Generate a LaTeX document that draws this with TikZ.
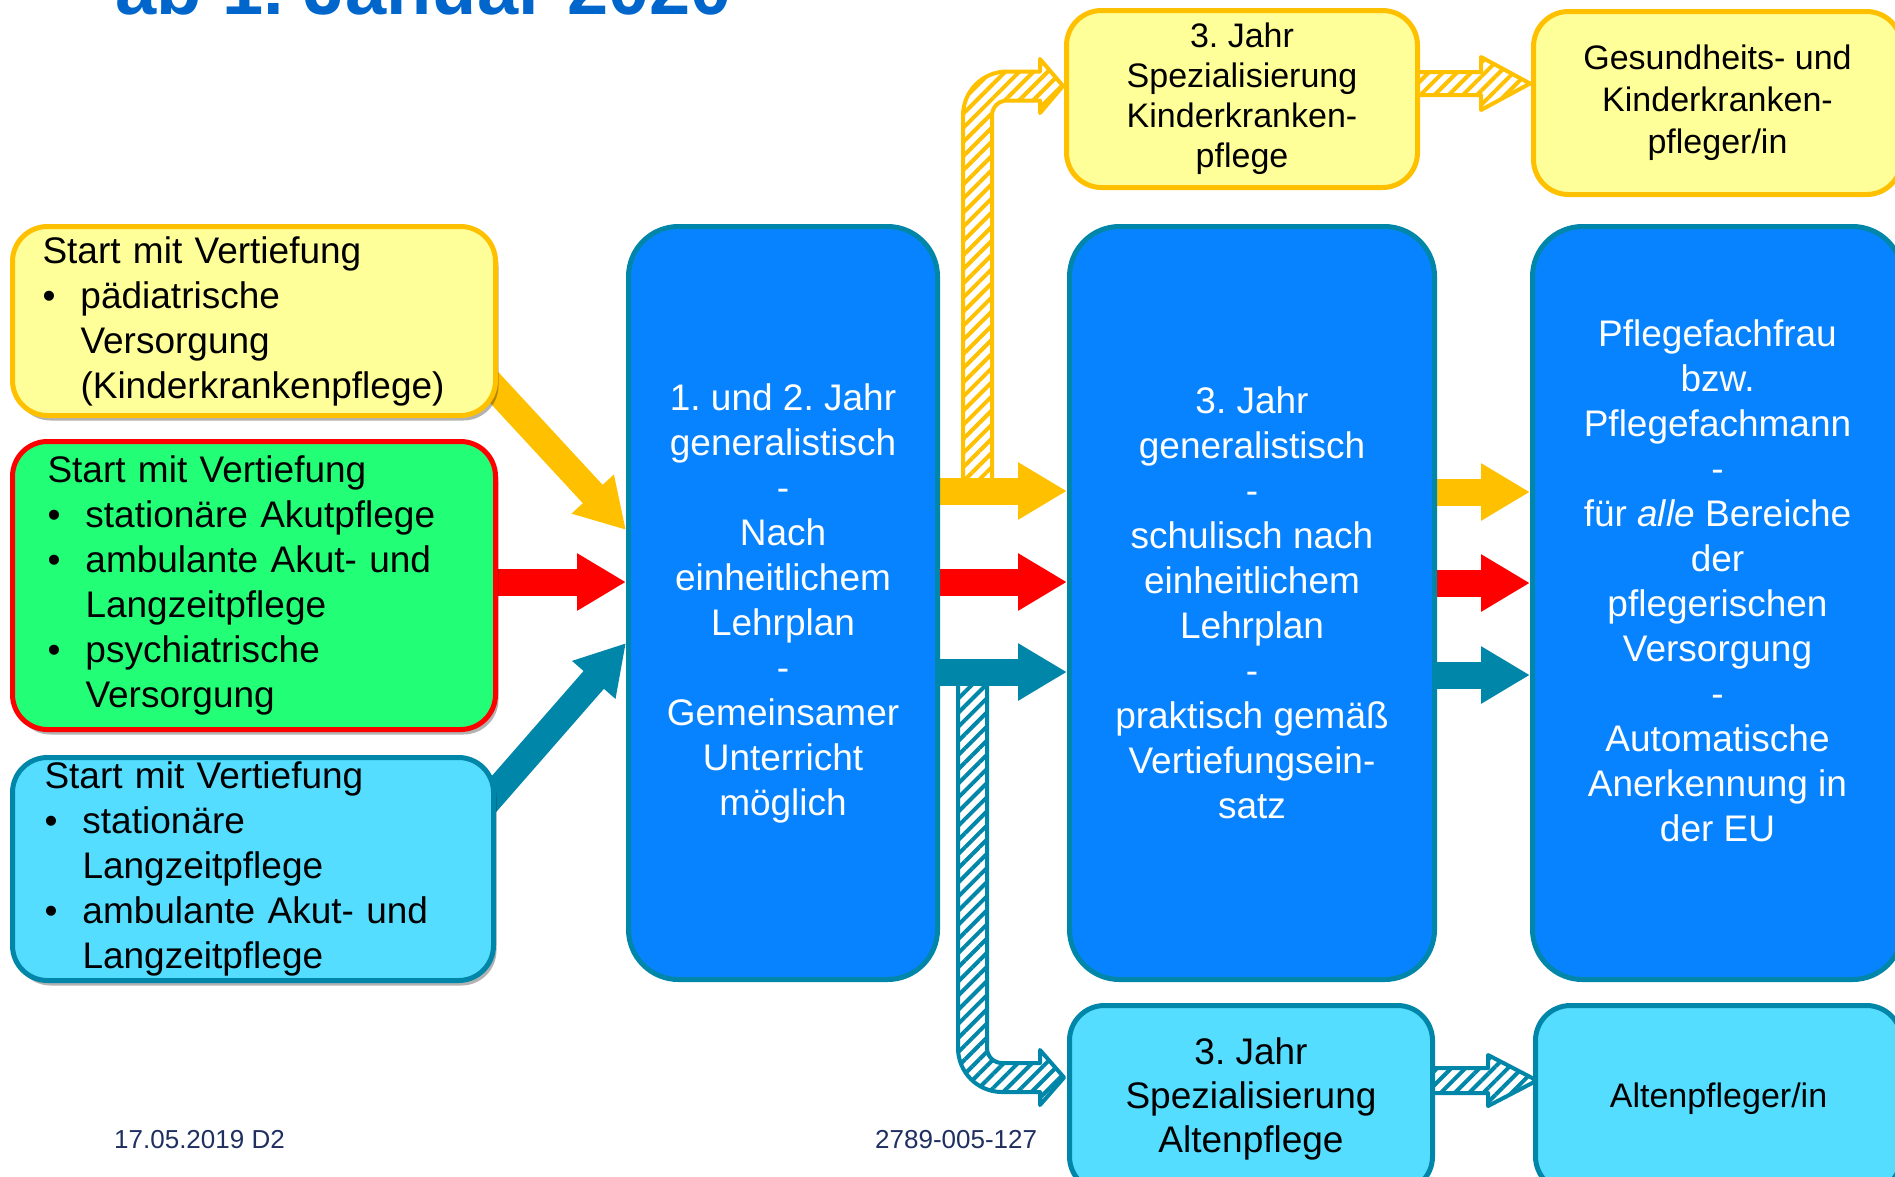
\documentclass[tikz,border=0pt]{standalone}
\usepackage{fontspec}
\setmainfont{Liberation Sans}
\usetikzlibrary{arrows.meta,patterns.meta,shadows,backgrounds}
\frenchspacing
\definecolor{ygold}{HTML}{FFC000}
\definecolor{yfill}{HTML}{FFFF99}
\definecolor{gfill}{HTML}{22FF77}
\definecolor{cfill}{HTML}{55DDFF}
\definecolor{tealc}{HTML}{0086A8}
\definecolor{bfill}{HTML}{0883FF}
\definecolor{redc}{HTML}{FF0000}
\definecolor{titleblue}{HTML}{0066CC}
\definecolor{footnavy}{HTML}{1F3060}
\tikzset{
  lbox/.style={draw, line width=5pt, rounded corners=35pt, inner sep=0pt, anchor=north west,
    align=left, font=\fontsize{37}{45}\selectfont,
    drop shadow={shadow xshift=3pt, shadow yshift=-5pt, opacity=0.3, fill=black}},
  bbox/.style={draw=tealc, fill=bfill, line width=5pt, rounded corners=50pt, inner sep=0pt,
    anchor=north west, align=center, text=white, font=\fontsize{37}{45}\selectfont},
  sbox/.style={line width=5pt, rounded corners=35pt, inner sep=0pt, anchor=north west, align=center},
  sarrow/.style={line width=27pt, -{Triangle[length=49pt,width=54pt]}},
  hatch/.style={line width=4pt, line join=round, draw=#1, preaction={fill=white},
    pattern={Lines[angle=45,distance=10pt,line width=4pt]}, pattern color=#1},
  foot/.style={font=\fontsize{26}{30}\selectfont, text=footnavy, anchor=base west, inner sep=0pt}
}
\newcommand{\bul}{\makebox[38pt][l]{\textbullet}}
\newcommand{\ind}{\hspace*{38pt}}
\begin{document}
\begin{tikzpicture}[x=1pt,y=-1pt]
\useasboundingbox (0,0) rectangle (1895,1176);
\clip (0,0) rectangle (1895,1176);

% title (cut off at the top, as in the original)
\node[font=\fontsize{74}{80}\selectfont\bfseries, text=titleblue, anchor=base west, inner sep=0pt]
  (title) at (115,14) {ab 1. Januar 2020};

% left boxes
\node[lbox, draw=ygold, fill=yfill, minimum width=483pt, minimum height=189pt, text width=423pt]
  (yl) at (10,224)
  {Start mit Vertiefung\\\bul pädiatrische\\\ind Versorgung\\\ind (Kinderkrankenpflege)};
\node[lbox, draw=redc, fill=gfill, minimum width=483pt, minimum height=288pt, text width=413pt]
  (gl) at (10,439)
  {Start mit Vertiefung\\\bul stationäre Akutpflege\\\bul ambulante Akut- und\\\ind Langzeitpflege\\\bul psychiatrische\\\ind Versorgung};
\node[lbox, draw=tealc, fill=cfill, minimum width=481pt, minimum height=223pt, text width=417pt]
  (cl) at (10,755)
  {Start mit Vertiefung\\\bul stationäre\\\ind Langzeitpflege\\\bul ambulante Akut- und\\\ind Langzeitpflege};

% blue boxes
\node[bbox, minimum width=309pt, minimum height=753pt] (b1) at (626,224)
  {1. und 2. Jahr\\generalistisch\\-\\Nach\\einheitlichem\\Lehrplan\\-\\Gemeinsamer\\Unterricht\\möglich};
\node[bbox, minimum width=365pt, minimum height=753pt] (b2) at (1067,224)
  {3. Jahr\\generalistisch\\-\\schulisch nach\\einheitlichem\\Lehrplan\\-\\praktisch gemäß\\Vertiefungsein-\\satz};
\node[bbox, minimum width=370pt, minimum height=753pt] (b3) at (1530,224)
  {Pflegefachfrau\\bzw.\\Pflegefachmann\\-\\für \textit{alle} Bereiche\\der\\pflegerischen\\Versorgung\\-\\Automatische\\Anerkennung in\\der EU\\\mbox{}};

% small boxes
\node[sbox, draw=ygold, fill=yfill, minimum width=351pt, minimum height=177pt,
  font=\fontsize{34}{40}\selectfont] (ytm) at (1064,8)
  {3. Jahr\\Spezialisierung\\Kinderkranken-\\pflege};
\node[sbox, draw=ygold, fill=yfill, minimum width=368pt, minimum height=183pt,
  font=\fontsize{34}{42}\selectfont] (ytr) at (1531,9)
  {Gesundheits- und\\Kinderkranken-\\pfleger/in};
\node[sbox, draw=tealc, fill=cfill, minimum width=363pt, minimum height=186pt,
  font=\fontsize{37}{44}\selectfont] (cbm) at (1067,1003)
  {3. Jahr\\Spezialisierung\\Altenpflege};
\node[sbox, draw=tealc, fill=cfill, minimum width=366pt, minimum height=186pt,
  font=\fontsize{34}{41}\selectfont] (cbr) at (1533,1003)
  {Altenpfleger/in};

% footer
\node[foot] (date) at (114,1148) {17.05.2019 D2};
\node[foot] (code) at (875,1148) {2789-005-127};

\begin{pgfonlayer}{background}
  % hatched arrows
  \draw[hatch=ygold] (963,481) -- (963,115.5) .. controls (963,91.2) and (982.7,71.5) .. (1007,71.5)
    -- (1040,71.5) -- (1040,59) -- (1063,86) -- (1040,113) -- (1040,100.5) -- (1007,100.5)
    .. controls (998.7,100.5) and (992,107.2) .. (992,115.5) -- (992,481) -- cycle;
  \draw[hatch=tealc] (958,682) -- (958,1048) .. controls (958,1072.3) and (977.7,1092) .. (1002,1092)
    -- (1040,1092) -- (1040,1105) -- (1064,1077.5) -- (1040,1050) -- (1040,1063) -- (1002,1063)
    .. controls (993.7,1063) and (987,1056.3) .. (987,1048) -- (987,682) -- cycle;
  \draw[hatch=ygold] (1410,72) -- (1481,72) -- (1481,57) -- (1530,83.5) -- (1481,110) -- (1481,95)
    -- (1410,95) -- cycle;
  \draw[hatch=tealc] (1425,1068) -- (1488,1068) -- (1488,1055) -- (1537,1080.5) -- (1488,1106)
    -- (1488,1093) -- (1425,1093) -- cycle;

  % solid arrows into b1
  \coordinate (ys) at (478,370);
  \coordinate (ts) at (480,810);
  \draw[sarrow, ygold] (ys) -- (b1.west |- 0,530);
  \draw[sarrow, redc] (gl.east |- 0,582) -- (b1.west |- 0,582);
  \draw[sarrow, tealc] (ts) -- (b1.west |- 0,643);

  % b1 -> b2
  \draw[sarrow, ygold] (b1.east |- 0,491) -- (b2.west |- 0,491);
  \draw[sarrow, redc] (b1.east |- 0,582) -- (b2.west |- 0,582);
  \draw[sarrow, tealc] (b1.east |- 0,672) -- (b2.west |- 0,672);

  % b2 -> b3
  \draw[sarrow, ygold] (b2.east |- 0,492) -- (b3.west |- 0,492);
  \draw[sarrow, redc] (b2.east |- 0,583) -- (b3.west |- 0,583);
  \draw[sarrow, tealc] (b2.east |- 0,675) -- (b3.west |- 0,675);
\end{pgfonlayer}
\end{tikzpicture}
\end{document}
